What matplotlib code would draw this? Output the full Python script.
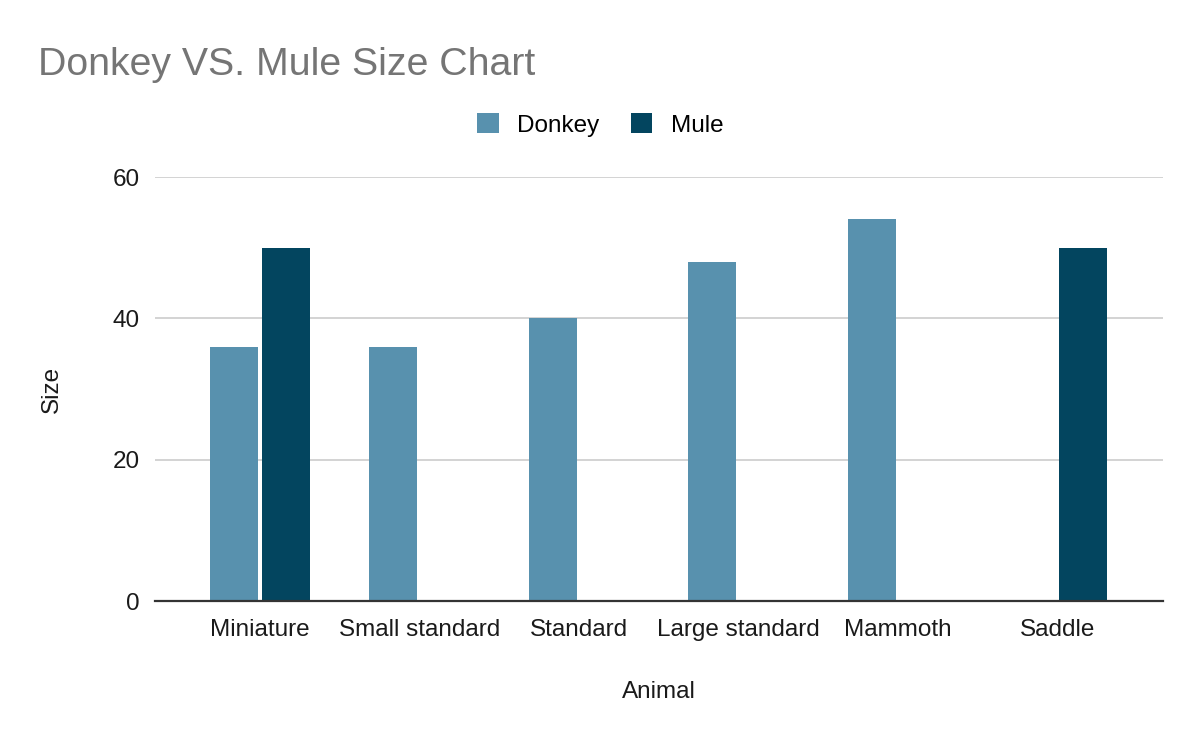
import matplotlib.pyplot as plt
import numpy as np

# DATA
categories = ['Miniature', 'Small standard', 'Standard', 'Large standard', 'Mammoth', 'Saddle']
donkey = [36, 36, 40, 48, 54, 0]
mule = [50, 0, 0, 0, 0, 50]
y_ticks = [0, 20, 40, 60]

DONKEY_COLOR = '#5891AE'
MULE_COLOR = '#03455F'
FS = 17.5

plt.rcParams['font.family'] = ['Liberation Sans', 'DejaVu Sans']

fig = plt.figure(figsize=(12, 7.42), dpi=100)
ax = fig.add_axes([155 / 1200, 1 - 601 / 742, 1008 / 1200, (601 - 177) / 742])

x = np.arange(len(categories))
w = 0.30
off = 0.163
ax.bar(x - off, donkey, width=w, color=DONKEY_COLOR, label='Donkey', zorder=3)
ax.bar(x + off, mule, width=w, color=MULE_COLOR, label='Mule', zorder=3)

ax.set_xlim(-0.657, 5.663)
ax.set_ylim(0, 60)
ax.set_yticks(y_ticks)
ax.set_xticks(x)
ax.set_xticklabels(categories)
ax.tick_params(axis='both', length=0, labelsize=FS, colors='#1a1a1a')
ax.tick_params(axis='x', pad=13)
ax.tick_params(axis='y', pad=11)

ax.grid(axis='y', color='#cccccc', linewidth=1.2, zorder=0)
for s in ['top', 'right', 'left']:
    ax.spines[s].set_visible(False)
ax.spines['bottom'].set_color('#333333')
ax.spines['bottom'].set_linewidth(1.6)
ax.spines['bottom'].set_zorder(4)

ax.set_xlabel('Animal', fontsize=FS, color='#1a1a1a', labelpad=29)
ax.set_ylabel('Size', fontsize=FS, color='#1a1a1a', labelpad=36)

fig.text(38 / 1200, 1 - 65 / 742, 'Donkey VS. Mule Size Chart', fontsize=28.3,
         color='#757575', va='center', ha='left')

fig.legend(loc='center', bbox_to_anchor=(600 / 1200, 1 - 125 / 742), ncol=2,
           frameon=False, fontsize=FS, handlelength=0.9, handleheight=0.9,
           handletextpad=0.75, columnspacing=1.3)

fig.savefig('out.png', dpi=100)
